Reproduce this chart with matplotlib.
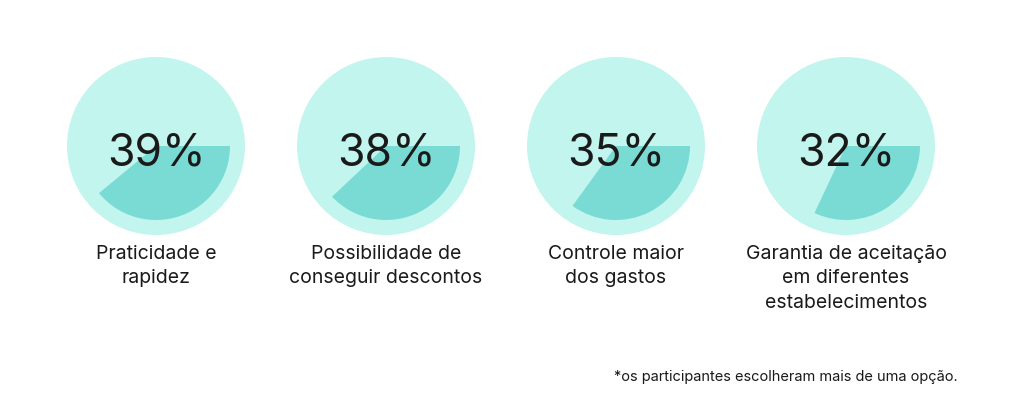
import matplotlib
matplotlib.use("Agg")
import matplotlib.pyplot as plt
from matplotlib.patches import Circle, Wedge

values = [39, 38, 35, 32]
labels = ["Praticidade e\nrapidez", "Possibilidade de\nconseguir descontos",
          "Controle maior\ndos gastos", "Garantia de aceitação\nem diferentes\nestabelecimentos"]
note = "*os participantes escolheram mais de uma opção."

plt.rcParams['font.family'] = ['Inter', 'DejaVu Sans']
W, H = 1024, 406
fig = plt.figure(figsize=(W/100, H/100), dpi=100)
ax = fig.add_axes([0, 0, 1, 1])
ax.set_xlim(0, W); ax.set_ylim(0, H); ax.axis('off')

cy = H - 147
for i, (v, lab) in enumerate(zip(values, labels)):
    cx = 156 + 230 * i
    ax.add_patch(Circle((cx, cy), 89, color='#C2F5EE', lw=0))
    ax.add_patch(Wedge((cx, cy), 74, -v * 3.6, 0, color='#7ADBD5', lw=0))
    ax.text(cx, H - 154, f"{v}%", ha='center', va='center', fontsize=32, color='#1a1a1a')
    ax.text(cx, H - 245, lab, ha='center', va='top', fontsize=14, color='#1a1a1a', linespacing=1.45)

ax.text(958, H - 377, note, ha='right', va='center', fontsize=10.5, color='#1a1a1a')
fig.savefig("out.png", dpi=100, facecolor='white')
